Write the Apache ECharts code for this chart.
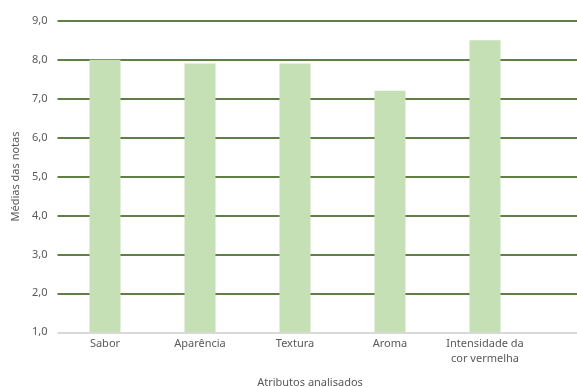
<!DOCTYPE html>
<html>
<head>
<meta charset="utf-8">
<style>
  html, body { margin: 0; padding: 0; background: #fff; }
  #chart { width: 577px; height: 387px; }
</style>
<script src="https://cdn.jsdelivr.net/npm/echarts@6/dist/echarts.min.js"></script>
</head>
<body>
<div id="chart"></div>
<script>
var categories = ['Sabor', 'Aparência', 'Textura', 'Aroma', 'Intensidade da\ncor vermelha'];
var medias = [8.0, 7.9, 7.9, 7.2, 8.5];
var yMin = 1;
var yMax = 9;

var green = '#5f7f45';
var barColor = '#c5e0b4';
var labelColor = '#595959';
var font = 'Noto Sans';

// cor de cada linha de grade: a base (1,0) é cinza claro
var gridColors = ['#d9d9d9', green, green, green, green, green, green, green, green];

var chart = echarts.init(document.getElementById('chart'), null, { renderer: 'canvas' });
chart.setOption({
  animation: false,
  title: {
    text: 'Atributos analisados',
    left: 305,
    top: 372,
    textAlign: 'center',
    textStyle: { color: labelColor, fontFamily: font, fontSize: 11, fontWeight: 'normal' }
  },
  grid: [
    { left: 57.5, top: 20.7, width: 475, height: 311.6 },
    { left: 57.5, top: 20.7, right: 0, height: 311.6 }
  ],
  xAxis: [{
    type: 'category',
    gridIndex: 0,
    data: categories,
    axisLine: { show: false },
    axisTick: { show: false },
    axisLabel: { interval: 0, color: labelColor, fontFamily: font, fontSize: 11, margin: 4, lineHeight: 15 }
  }, {
    type: 'value',
    gridIndex: 1,
    min: 0,
    max: 1,
    show: false
  }],
  yAxis: [{
    type: 'value',
    gridIndex: 0,
    min: yMin,
    max: yMax,
    interval: 1,
    name: 'Médias das notas',
    nameLocation: 'middle',
    nameGap: 35,
    nameTextStyle: { color: labelColor, fontFamily: font, fontSize: 11 },
    axisLine: { show: false },
    axisTick: { show: false },
    splitLine: { show: false },
    axisLabel: {
      color: labelColor, fontFamily: font, fontSize: 11, margin: 10,
      formatter: function (v) { return v.toFixed(1).replace('.', ','); }
    }
  }, {
    type: 'value',
    gridIndex: 1,
    min: yMin,
    max: yMax,
    interval: 1,
    axisLine: { show: false },
    axisTick: { show: false },
    axisLabel: { show: false },
    splitLine: { lineStyle: { color: gridColors, width: 2 } }
  }],
  series: [{
    type: 'bar',
    xAxisIndex: 0,
    yAxisIndex: 0,
    data: medias,
    barWidth: 31,
    z: 5,
    itemStyle: { color: barColor }
  }]
});
</script>
</body>
</html>
